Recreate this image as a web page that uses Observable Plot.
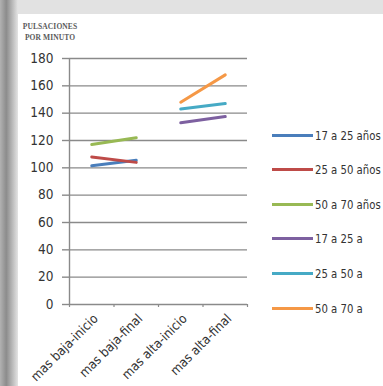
<!DOCTYPE html>
<html>
<head>
<meta charset="utf-8">
<script src="https://cdn.jsdelivr.net/npm/d3@7"></script>
<script src="https://cdn.jsdelivr.net/npm/@observablehq/plot@0.6"></script>
<style>
  body { margin: 0; background: #fff; }
  #frame {
    position: relative; width: 383px; height: 386px; overflow: hidden; background: #fff;
    font-family: "DejaVu Sans Condensed", "DejaVu Sans", sans-serif;
  }
  #frame svg { position: absolute; left: 0; top: 0; }
  #topband { position: absolute; left: 0; top: 0; width: 383px; height: 14px; background: #e2e2e2; z-index: 2; }
  #leftband {
    position: absolute; left: 0; top: 0; width: 18px; height: 386px; z-index: 3;
    background: linear-gradient(to right, #b2b2b2 0%, #8c8c8c 35%, #c2c2c2 75%, #e4e4e4 100%);
  }
  #ytitle {
    position: absolute; left: 19px; top: 21px; width: 62px; text-align: center; z-index: 2;
    font: bold 7.5px "Liberation Serif", serif; line-height: 11px; color: #5a5a5a; letter-spacing: 0.1px;
  }
  #legend { position: absolute; left: 272px; top: 0; z-index: 2; }
  .item { position: absolute; left: 0; display: flex; align-items: center; height: 16px; white-space: nowrap;
          font-size: 12.5px; color: #333; }
  .swatch { width: 41px; height: 3px; margin-right: 2px; flex: none; }
  .item span { display: inline-block; transform: scaleX(0.9); transform-origin: left center; }
</style>
</head>
<body>
<div id="frame">
  <div id="topband"></div>
  <div id="leftband"></div>
  <div id="ytitle">PULSACIONES<br>POR MINUTO</div>
  <div id="legend"></div>
</div>
<script>
// Categorías del eje X
const categories = ["mas baja-inicio", "mas baja-final", "mas alta-inicio", "mas alta-final"];

// Series (grupos de edad) y sus colores
const seriesNames = ["17 a 25 años", "25 a 50 años", "50 a 70 años", "17 a 25 a", "25 a 50 a", "50 a 70 a"];
const seriesColors = ["#4a7ebb", "#be4b48", "#98b954", "#7d60a0", "#46aac5", "#f59846"];

// Pulsaciones por minuto (null = sin dato en esa categoría)
const baja17a25 = [101.5, 105.5, null, null];
const baja25a50 = [108, 104, null, null];
const baja50a70 = [117, 122, null, null];
const alta17a25 = [null, null, 133, 137.5];
const alta25a50 = [null, null, 143, 147];
const alta50a70 = [null, null, 148, 168];

// Marcas del eje Y
const yTicks = [0, 20, 40, 60, 80, 100, 120, 140, 160, 180];

const seriesValues = [baja17a25, baja25a50, baja50a70, alta17a25, alta25a50, alta50a70];
const rows = seriesValues.flatMap((vals, s) =>
  vals.map((v, i) => ({serie: seriesNames[s], pos: i + 0.5, v}))
).filter(d => d.v != null);

const fontFamily = '"DejaVu Sans Condensed", "DejaVu Sans", sans-serif';
const gridColor = "#8a8a8a";

const chart = Plot.plot({
  width: 383,
  height: 386,
  marginLeft: 69,
  marginRight: 136,
  marginTop: 58,
  marginBottom: 82,
  style: {background: "transparent", fontFamily, overflow: "visible"},
  x: {type: "linear", domain: [0, categories.length], axis: null, label: null},
  y: {domain: [0, 180], axis: null, label: null},
  color: {domain: seriesNames, range: seriesColors},
  marks: [
    Plot.gridY(yTicks, {stroke: gridColor, strokeOpacity: 1, strokeWidth: 1.4}),
    Plot.axisY({ticks: yTicks, tickSize: 7, tickPadding: 9, stroke: gridColor, strokeWidth: 1.4,
                fill: "#333", fontSize: 13.5, label: null}),
    Plot.ruleX([0], {stroke: gridColor, strokeWidth: 1.4}),
    Plot.axisX({ticks: d3.range(categories.length + 1), tickSize: 3, tickFormat: () => "",
                stroke: gridColor, strokeWidth: 1.2, label: null}),
    Plot.axisX({ticks: categories.map((c, i) => i + 0.5), tickSize: 0, tickPadding: 6, tickRotate: -45,
                tickFormat: d => categories[Math.floor(d)], fill: "#333", fontSize: 13,
                dx: 4, dy: 6, label: null}),
    Plot.line(rows, {x: "pos", y: "v", z: "serie", stroke: "serie", strokeWidth: 3})
  ]
});
document.getElementById("frame").prepend(chart);

// Leyenda
const legend = d3.select("#legend");
seriesNames.forEach((name, i) => {
  const item = legend.append("div").attr("class", "item").style("top", `${127 + i * 34.6}px`);
  item.append("div").attr("class", "swatch").style("background", seriesColors[i]);
  item.append("span").text(name);
});
</script>
</body>
</html>
